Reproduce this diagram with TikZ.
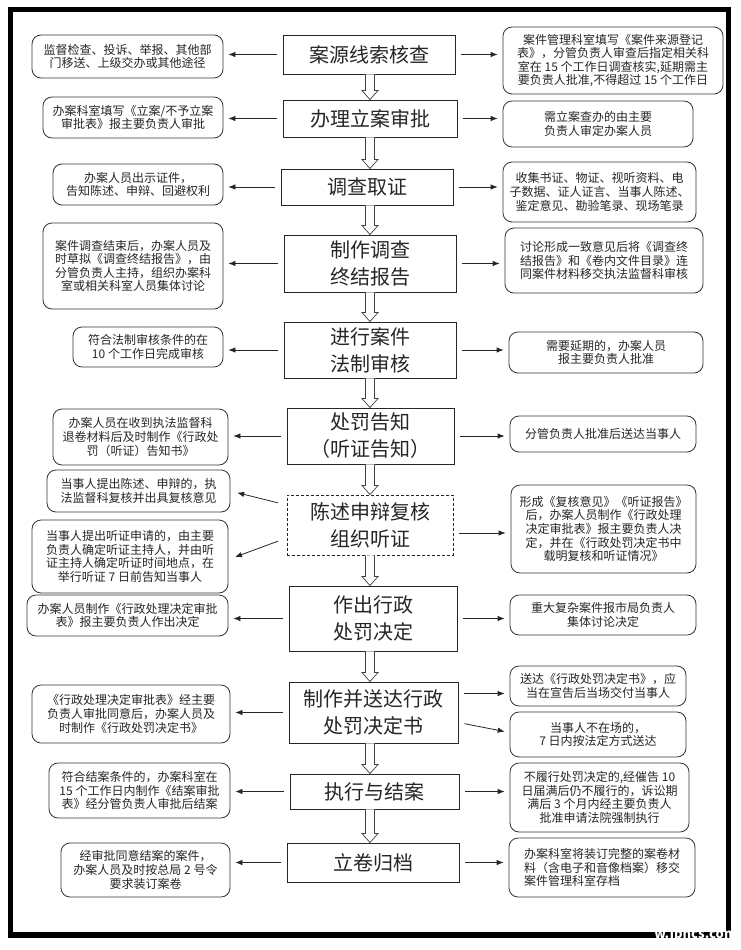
\documentclass[tikz,border=0pt]{standalone}
\usepackage{fontspec}
\setmainfont{Noto Sans CJK SC}
\usetikzlibrary{arrows.meta,calc}
\newcommand\flowdown[2]{%
  \draw[hollowarr] let \p1=(#1.south), \p2=(#2.north) in
  (365.5pt,\y1) -- (365.5pt,\y2+9pt) -- (362pt,\y2+9pt) -- (370pt,\y2)
  -- (378pt,\y2+9pt) -- (374.5pt,\y2+9pt) -- (374.5pt,\y1);}
\begin{document}
\begin{tikzpicture}[x=1pt,y=-1pt,
  mainbox/.style={draw=black!85, line width=0.9pt, fill=white, inner sep=0pt,
    align=center, font=\fontsize{20}{27}\selectfont, text=black!85},
  sidebox/.style={draw=black!80, line width=0.8pt, rounded corners=9pt,
    fill=white, inner sep=0pt, align=center,
    font=\fontsize{12}{13.6}\selectfont, text=black!85},
  sidearr/.style={-{Latex[length=7pt,width=5.5pt]}, line width=0.8pt,
    draw=black!85, shorten <=6pt, shorten >=5pt},
  hollowarr/.style={draw=black!75, line width=0.7pt, fill=white}]
\useasboundingbox (0,0) rectangle (740,950);
\fill[white] (0,0) rectangle (740,950);
\draw[line width=5.5pt] (10.5,9.5) rectangle (728.5,935);

% main column
\node[mainbox, minimum width=172pt, minimum height=39pt] (b1) at (369,54.5) {案源线索核查};
\node[mainbox, minimum width=174pt, minimum height=37pt] (b2) at (370,118.5) {办理立案审批};
\node[mainbox, minimum width=172pt, minimum height=36pt] (b3) at (367,187) {调查取证};
\node[mainbox, minimum width=172pt, minimum height=57pt] (b4) at (370,263.5) {制作调查\\终结报告};
\node[mainbox, minimum width=172pt, minimum height=56pt] (b5) at (370,350) {进行案件\\法制审核};
\node[mainbox, minimum width=167pt, minimum height=56pt] (b6) at (370.5,436) {处罚告知\\（听证告知）};
\node[mainbox, dash pattern=on 3pt off 2pt, minimum width=166pt, minimum height=60pt] (b7) at (370,525) {陈述申辩复核\\组织听证};
\node[mainbox, minimum width=168pt, minimum height=65pt] (b8) at (373,618.5) {作出行政\\处罚决定};
\node[mainbox, minimum width=169pt, minimum height=61pt] (b9) at (373.5,712.5) {制作并送达行政\\处罚决定书};
\node[mainbox, minimum width=169pt, minimum height=35pt] (b10) at (374.5,791.5) {执行与结案};
\node[mainbox, minimum width=172pt, minimum height=39pt] (b11) at (373,862.5) {立卷归档};

\flowdown{b1}{b2}
\flowdown{b2}{b3}
\flowdown{b3}{b4}
\flowdown{b4}{b5}
\flowdown{b5}{b6}
\flowdown{b6}{b7}
\flowdown{b7}{b8}
\flowdown{b8}{b9}
\flowdown{b9}{b10}
\flowdown{b10}{b11}

% left side
\node[sidebox, minimum width=191pt, minimum height=43pt] (l1) at (127.5,56.5) {监督检查、投诉、举报、其他部\\门移送、上级交办或其他途径};
\node[sidebox, minimum width=180pt, minimum height=41pt] (l2) at (133,117.5) {办案科室填写《立案/不予立案\\审批表》报主要负责人审批};
\node[sidebox, minimum width=170pt, minimum height=41pt] (l3) at (138,184.5) {办案人员出示证件，\\告知陈述、申辩、回避权利};
\node[sidebox, minimum width=180pt, minimum height=86pt] (l4) at (133,266) {案件调查结束后，办案人员及\\时草拟《调查终结报告》，由\\分管负责人主持，组织办案科\\室或相关科室人员集体讨论};
\node[sidebox, minimum width=150pt, minimum height=40pt] (l5) at (148,347) {符合法制审核条件的在\\10 个工作日完成审核};
\node[sidebox, minimum width=175pt, minimum height=56pt] (l6) at (140.5,437) {办案人员在收到执法监督科\\退卷材料后及时制作《行政处\\罚（听证）告知书》};
\node[sidebox, minimum width=183pt, minimum height=42pt] (l7) at (138.5,491) {当事人提出陈述、申辩的，执\\法监督科复核并出具复核意见};
\node[sidebox, minimum width=196pt, minimum height=73pt] (l8) at (130,556.5) {当事人提出听证申请的，由主要\\负责人确定听证主持人，并由听\\证主持人确定听证时间地点，在\\举行听证 7 日前告知当事人};
\node[sidebox, minimum width=201pt, minimum height=41pt] (l9) at (127.5,615.5) {办案人员制作《行政处理决定审批\\表》报主要负责人作出决定};
\node[sidebox, minimum width=198pt, minimum height=58pt] (l10) at (131,714) {《行政处理决定审批表》经主要\\负责人审批同意后，办案人员及\\时制作《行政处罚决定书》};
\node[sidebox, minimum width=181pt, minimum height=55pt] (l11) at (139.5,790.5) {符合结案条件的，办案科室在\\15 个工作日内制作《结案审批\\表》经分管负责人审批后结案};
\node[sidebox, minimum width=169pt, minimum height=54pt] (l12) at (145.5,870) {经审批同意结案的案件，\\办案人员及时按总局 2 号令\\要求装订案卷};

% right side
\node[sidebox, minimum width=220pt, minimum height=67pt] (r1) at (613,60.5) {案件管理科室填写《案件来源登记\\表》，分管负责人审查后指定相关科\\室在 15 个工作日调查核实,延期需主\\要负责人批准,不得超过 15 个工作日};
\node[sidebox, minimum width=190pt, minimum height=46pt] (r2) at (598,124) {需立案查办的由主要\\负责人审定办案人员};
\node[sidebox, minimum width=193pt, minimum height=60pt] (r3) at (599.5,192) {收集书证、物证、视听资料、电\\子数据、证人证言、当事人陈述、\\鉴定意见、勘验笔录、现场笔录};
\node[sidebox, minimum width=198pt, minimum height=65pt] (r4) at (604,260.5) {讨论形成一致意见后将《调查终\\结报告》和《卷内文件目录》连\\同案件材料移交执法监督科审核};
\node[sidebox, minimum width=194pt, minimum height=41pt] (r5) at (606,352.5) {需要延期的，办案人员\\报主要负责人批准};
\node[sidebox, minimum width=186pt, minimum height=36pt] (r6) at (603,434) {分管负责人批准后送达当事人};
\node[sidebox, minimum width=185pt, minimum height=88pt] (r7) at (603.5,529) {形成《复核意见》《听证报告》\\后，办案人员制作《行政处理\\决定审批表》报主要负责人决\\定，并在《行政处罚决定书中\\载明复核和听证情况》};
\node[sidebox, minimum width=186pt, minimum height=40pt] (r8) at (603,615) {重大复杂案件报市局负责人\\集体讨论决定};
\node[sidebox, minimum width=176pt, minimum height=40pt] (r9) at (598,686) {送达《行政处罚决定书》，应\\当在宣告后当场交付当事人};
\node[sidebox, minimum width=176pt, minimum height=45pt] (r10) at (598,734.5) {当事人不在场的，\\7 日内按法定方式送达};
\node[sidebox, minimum width=179pt, minimum height=69pt] (r11) at (599.5,797.5) {不履行处罚决定的,经催告 10\\日届满后仍不履行的，诉讼期\\满后 3 个月内经主要负责人\\批准申请法院强制执行};
\node[sidebox, align=left, minimum width=186pt, minimum height=59pt] (r12) at (602,867.5) {办案科室将装订完整的案卷材\\料（含电子和音像档案）移交\\案件管理科室存档};

% left arrows
\draw[sidearr] (b1.west) -- (b1.west -| l1.east);
\draw[sidearr] (b2.west) -- (b2.west -| l2.east);
\draw[sidearr] (b3.west) -- (b3.west -| l3.east);
\draw[sidearr] (b4.west) -- (b4.west -| l4.east);
\draw[sidearr] (b5.west) -- (b5.west -| l5.east);
\draw[sidearr] (b6.west) -- (b6.west -| l6.east);
\coordinate (b7a) at ($(b7.west)+(0,-20)$);
\coordinate (b7b) at ($(b7.west)+(0,13)$);
\coordinate (l8a) at ($(l8.east)+(0,3)$);
\draw[sidearr, shorten <=9pt, shorten >=7pt] (b7a) -- (l7.east);
\draw[sidearr, shorten <=9pt, shorten >=7pt] (b7b) -- (l8a);
\draw[sidearr] (b8.west) -- (b8.west -| l9.east);
\draw[sidearr] (b9.west) -- (b9.west -| l10.east);
\draw[sidearr] (b10.west) -- (b10.west -| l11.east);
\draw[sidearr] (b11.west) -- (b11.west -| l12.east);

% right arrows
\draw[sidearr] (b1.east) -- (b1.east -| r1.west);
\draw[sidearr] (b2.east) -- (b2.east -| r2.west);
\draw[sidearr] (b3.east) -- (b3.east -| r3.west);
\draw[sidearr] (b4.east) -- (b4.east -| r4.west);
\draw[sidearr] (b5.east) -- (b5.east -| r5.west);
\draw[sidearr] (b6.east) -- (b6.east -| r6.west);
\coordinate (b7c) at ($(b7.east)+(0,8)$);
\draw[sidearr] (b7c) -- (b7c -| r7.west);
\draw[sidearr] (b8.east) -- (b8.east -| r8.west);
\coordinate (b9a) at ($(b9.east)+(0,-19)$);
\coordinate (b9b) at ($(b9.east)+(0,10)$);
\coordinate (r10a) at ($(r10.west)+(0,-2)$);
\draw[sidearr] (b9a) -- (b9a -| r9.west);
\draw[sidearr] (b9b) -- (r10a);
\draw[sidearr] (b10.east) -- (b10.east -| r11.west);
\draw[sidearr] (b11.east) -- (b11.east -| r12.west);

% watermark
\node[anchor=base east, inner sep=0pt, text=white, font=\fontsize{13}{13}\selectfont\bfseries] (wm) at (737,938) {w.jbhcs.com};
\end{tikzpicture}
\end{document}
